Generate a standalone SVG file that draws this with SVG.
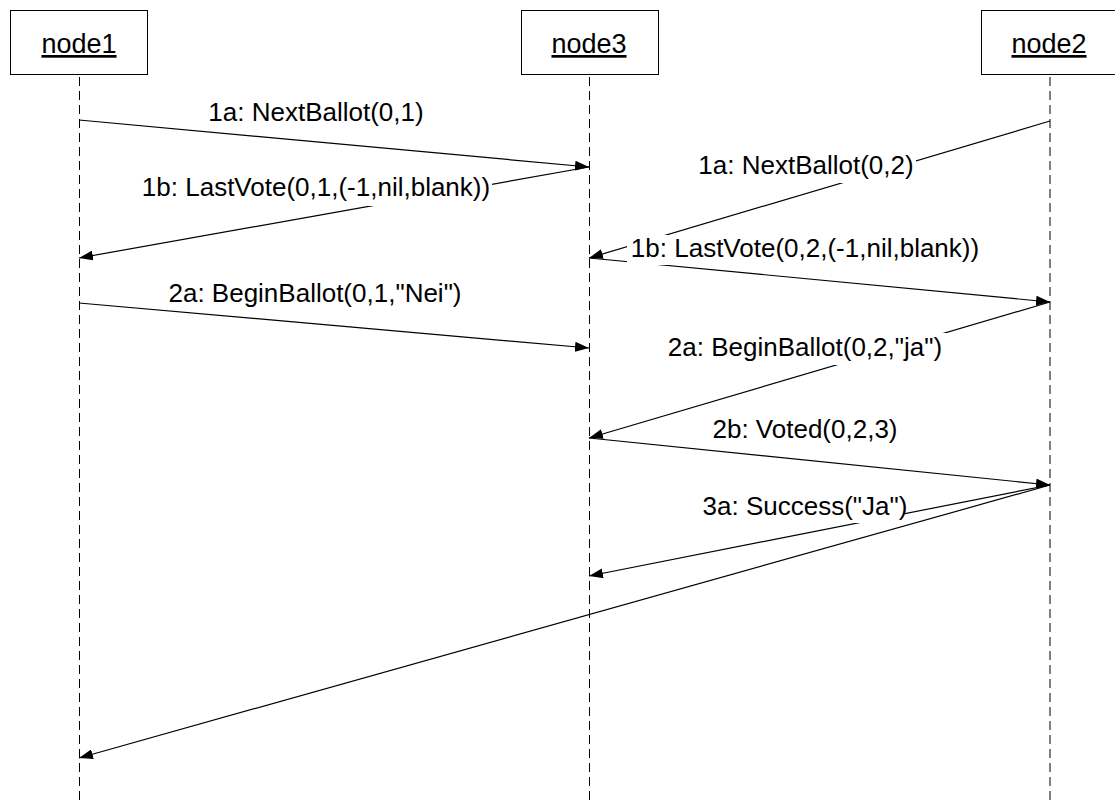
<svg xmlns="http://www.w3.org/2000/svg" width="1115" height="800" viewBox="0 0 1115 800">
<style>
.box{fill:#fff;stroke:#000;stroke-width:1}
.life{stroke:#000;stroke-width:1;stroke-dasharray:9,5;fill:none}
.msg{stroke:#000;stroke-width:1.2;fill:none;marker-end:url(#ah)}
.lbl{font-family:"Liberation Sans",Arial,sans-serif;font-size:26px;fill:#000;text-anchor:middle}
.bg{fill:#fff}
.nm{font-family:"Liberation Sans",Arial,sans-serif;font-size:27px;fill:#000;text-anchor:middle;text-decoration:underline}
</style>
<defs>
<marker id="ah" viewBox="0 0 14 10" refX="14" refY="5" markerWidth="14" markerHeight="10" markerUnits="userSpaceOnUse" orient="auto">
<path d="M0,0 L14,5 L0,10 Z" fill="#000"/>
</marker>
</defs>
<rect width="1115" height="800" fill="#fff"/>
<g id="node1">
<rect class="box" x="10.5" y="10.5" width="137" height="64"/>
<text class="nm" x="79" y="53">node1</text>
<line class="life" x1="79.5" y1="77" x2="79.5" y2="800"/>
</g>
<g id="node3">
<rect class="box" x="521.5" y="10.5" width="137" height="64"/>
<text class="nm" x="589" y="53">node3</text>
<line class="life" x1="589.5" y1="77" x2="589.5" y2="800"/>
</g>
<g id="node2">
<rect class="box" x="981.5" y="10.5" width="137" height="64"/>
<text class="nm" x="1049" y="53">node2</text>
<line class="life" x1="1050" y1="77" x2="1050" y2="800"/>
</g>
<g id="connectors">
<line class="msg" x1="79" y1="120" x2="589" y2="167"/>
<text class="lbl" x="316" y="121">1a: NextBallot(0,1)</text>

<line class="msg" x1="589" y1="167" x2="79" y2="258"/>
<rect class="bg" x="140" y="174" width="352" height="32"/>
<text class="lbl" x="316" y="196">1b: LastVote(0,1,(-1,nil,blank))</text>

<line class="msg" x1="1050" y1="121" x2="589" y2="258"/>
<rect class="bg" x="696" y="151" width="220" height="32"/>
<text class="lbl" x="806" y="174">1a: NextBallot(0,2)</text>

<line class="msg" x1="589" y1="258" x2="1050" y2="302"/>
<rect class="bg" x="627" y="235" width="356" height="30"/>
<text class="lbl" x="805" y="257">1b: LastVote(0,2,(-1,nil,blank))</text>

<line class="msg" x1="79" y1="303" x2="589" y2="348"/>
<text class="lbl" x="315" y="302">2a: BeginBallot(0,1,"Nei")</text>

<line class="msg" x1="1050" y1="302" x2="589" y2="438"/>
<rect class="bg" x="664" y="333" width="282" height="32"/>
<text class="lbl" x="805" y="356">2a: BeginBallot(0,2,"ja")</text>

<line class="msg" x1="589" y1="438" x2="1050" y2="485"/>
<text class="lbl" x="805" y="438">2b: Voted(0,2,3)</text>

<line class="msg" x1="1050" y1="485" x2="589" y2="576"/>
<rect class="bg" x="705" y="492" width="200" height="31"/>
<text class="lbl" x="805" y="515">3a: Success("Ja")</text>

<line class="msg" x1="1050" y1="485" x2="79" y2="758"/>
</g>
</svg>
